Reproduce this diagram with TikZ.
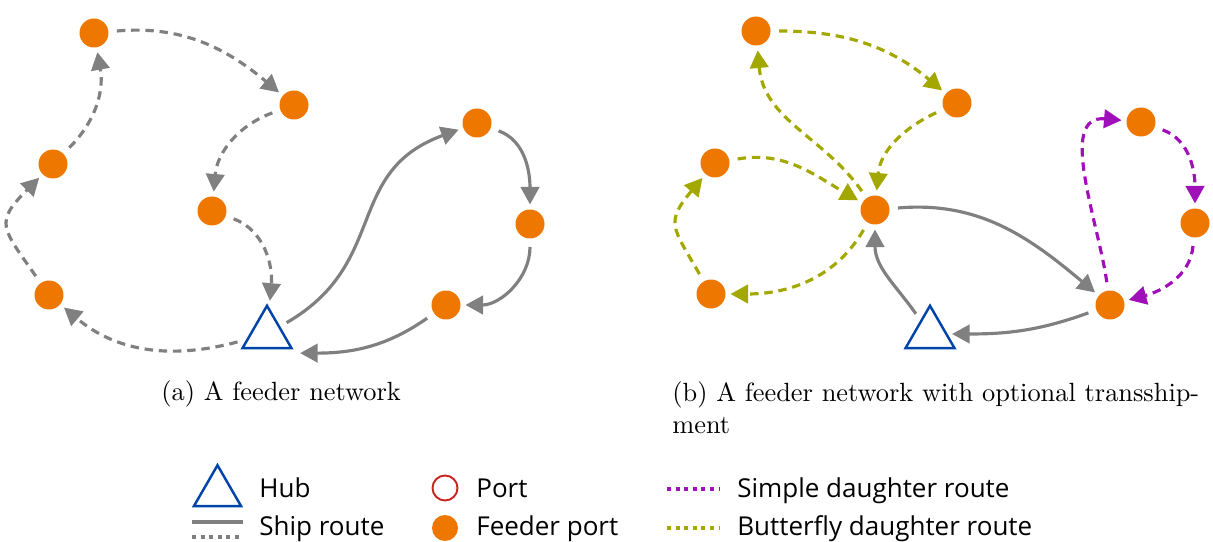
\documentclass[tikz,border=0pt]{standalone}
\usepackage{fontspec}
\newfontfamily\legendfont{Open Sans}
\newfontfamily\captionfont{lmroman10-regular.otf}
\usetikzlibrary{arrows.meta,shapes.geometric,positioning}
\definecolor{feederorange}{HTML}{EE7700}
\definecolor{routegray}{HTML}{808080}
\definecolor{hubblue}{HTML}{0044AA}
\definecolor{portred}{HTML}{CC2222}
\definecolor{simplepurple}{HTML}{A010B8}
\definecolor{butterflyolive}{HTML}{A3A800}

\begin{document}
\begin{tikzpicture}[x=0.02cm, y=0.02cm,
    feeder/.style={circle, fill=feederorange, inner sep=0pt, minimum size=0.58cm, outer sep=0.1cm},
    hub/.style={regular polygon, regular polygon sides=3, draw=hubblue, line width=1.4pt,
        inner sep=0pt, minimum size=1.13cm, outer sep=0.1cm},
    ship/.style={routegray, line width=1.8pt, -{Triangle[length=10pt,width=10.5pt]}, shorten <=2pt},
    shipdashed/.style={ship, dash pattern=on 4.8pt off 3.3pt},
    simple/.style={shipdashed, simplepurple},
    butterfly/.style={shipdashed, butterflyolive},
    legendline/.style={line width=2.3pt, dash pattern=on 2.3pt off 2.6pt},
    caption/.style={font=\captionfont\fontsize{15}{18.2}\selectfont, anchor=base west, align=left, inner sep=0pt},
    legend/.style={font=\legendfont\fontsize{14.8}{16}\selectfont, anchor=base west, inner sep=0pt}]
\useasboundingbox (0,0) rectangle (1213,541);

% (a) feeder network
\node[hub] (hubA) at (267,207) {};
\node[feeder] (a1) at (94,508) {};
\node[feeder] (a2) at (294,436) {};
\node[feeder] (a3) at (53,377) {};
\node[feeder] (a4) at (212,330) {};
\node[feeder] (a5) at (49,246) {};
\node[feeder] (a6) at (477,418) {};
\node[feeder] (a7) at (530,317) {};
\node[feeder] (a8) at (446,236) {};

\foreach \src/\dst/\o/\i/\l in {hubA/a5/195/-40/1, a5/a3/125/-135/1.6, a3/a1/45/-80/1,
    a1/a2/5/140/1, a2/a4/200/85/1, a4/hubA/-20/85/1}
    \draw[shipdashed] (\src) to[out=\o, in=\i, looseness=\l] (\dst);

\draw[ship] (hubA) to[out=30, in=-160, looseness=1.2] (a6);
\foreach \src/\dst/\o/\i in {a6/a7/-20/90, a7/a8/-90/0}
    \draw[ship] (\src) to[out=\o, in=\i] (\dst);
\draw[ship] (a8) to[out=215, in=0] (hubA.corner 3);

% (b) optional transshipment
\node[hub] (hubB) at (930,207) {};
\node[feeder] (b1) at (756,510) {};
\node[feeder] (b2) at (957,438) {};
\node[feeder] (b3) at (715,378) {};
\node[feeder] (b4) at (875,331) {};
\node[feeder] (b5) at (711,247) {};
\node[feeder] (b6) at (1141,419) {};
\node[feeder] (b7) at (1195,318) {};
\node[feeder] (b8) at (1110,236) {};

\foreach \src/\dst/\o/\i/\l in {b4/b1/125/-85/1, b1/b2/0/140/1, b2/b4/205/85/1,
    b4/b5/-120/0/1, b5/b3/120/-130/1.5, b3/b4/10/150/1}
    \draw[butterfly] (\src) to[out=\o, in=\i, looseness=\l] (\dst);

\foreach \src/\dst/\o/\i in {b4/b8/5/140, b8/hubB/200/0, hubB/b4/125/-90}
    \draw[ship] (\src) to[out=\o, in=\i] (\dst);

\foreach \src/\dst/\o/\i in {b8/b6/98/175, b6/b7/-20/90, b7/b8/-95/15}
    \draw[simple] (\src) to[out=\o, in=\i] (\dst);

% captions
\node[caption] (capA) at (161,140) {(a) A feeder network};
\node[caption] (capB) at (672,108) {(b) A feeder network with optional transship-\\ment};

% legend
\node[hub, minimum size=1.09cm, outer sep=0pt] (keyHub) at (217.5,48.5) {};
\node[legend] (txtHub) at (259,44) {Hub};
\draw[routegray, line width=2.3pt] (192,19) -- (243,19);
\draw[routegray, legendline] (192,4) -- (243,4);
\node[legend] (txtShip) at (259,6) {Ship route};

\node[circle, draw=portred, line width=1.1pt, minimum size=0.5cm, inner sep=0pt] (keyPort) at (445,53) {};
\node[legend] (txtPort) at (476,44) {Port};
\node[circle, fill=feederorange, minimum size=0.52cm, inner sep=0pt] (keyFeeder) at (445,13) {};
\node[legend] (txtFeeder) at (476,6) {Feeder port};

\draw[simplepurple, legendline] (667,52) -- (720,52);
\node[legend] (txtSimple) at (737,44) {Simple daughter route};
\draw[butterflyolive, legendline] (667,13) -- (720,13);
\node[legend] (txtButterfly) at (737,6) {Butterfly daughter route};
\end{tikzpicture}
\end{document}
